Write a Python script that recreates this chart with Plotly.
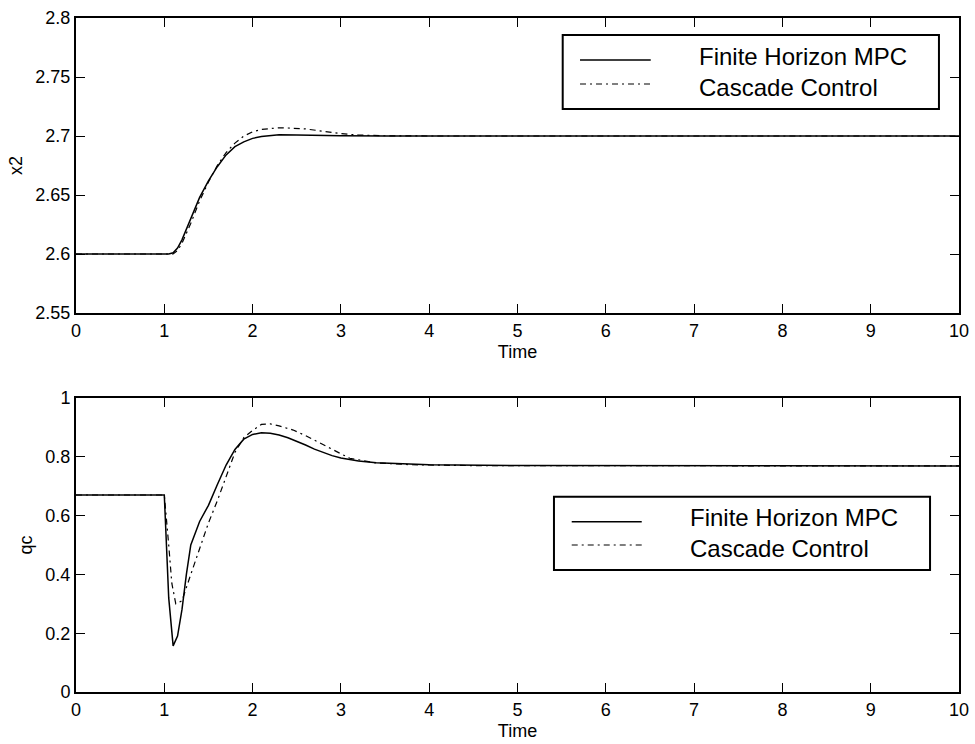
import plotly.graph_objects as go
from plotly.subplots import make_subplots

# ---------------- data ----------------
t_x2_mpc = [0, 1.0, 1.05, 1.1, 1.15, 1.2, 1.3, 1.4, 1.5, 1.6, 1.7, 1.8, 1.9, 2.0,
            2.1, 2.2, 2.3, 2.5, 2.7, 3.0, 3.5, 4.0, 10.0]
x2_mpc = [2.6, 2.6, 2.6, 2.601, 2.605, 2.612, 2.630, 2.648, 2.662, 2.674, 2.684,
          2.691, 2.695, 2.698, 2.6995, 2.7005, 2.701, 2.7008, 2.7004, 2.7002,
          2.7, 2.7, 2.7]

t_x2_cas = [0, 1.0, 1.05, 1.1, 1.15, 1.2, 1.3, 1.4, 1.5, 1.6, 1.7, 1.8, 1.9, 2.0,
            2.1, 2.2, 2.3, 2.4, 2.6, 2.8, 3.0, 3.2, 3.5, 4.0, 10.0]
x2_cas = [2.6, 2.6, 2.6, 2.6, 2.603, 2.609, 2.626, 2.645, 2.661, 2.675, 2.686,
          2.694, 2.700, 2.7035, 2.7055, 2.7065, 2.707, 2.7068, 2.706, 2.704,
          2.702, 2.7008, 2.7002, 2.7, 2.7]

t_qc_mpc = [0, 1.0, 1.05, 1.1, 1.15, 1.2, 1.25, 1.3, 1.4, 1.5, 1.6, 1.7, 1.8, 1.9,
            2.0, 2.1, 2.2, 2.3, 2.4, 2.5, 2.6, 2.7, 2.8, 2.9, 3.0, 3.2, 3.4, 3.7,
            4.0, 5.0, 10.0]
qc_mpc = [0.67, 0.67, 0.32, 0.157, 0.19, 0.28, 0.40, 0.50, 0.58, 0.635, 0.705,
          0.772, 0.825, 0.86, 0.876, 0.882, 0.880, 0.874, 0.865, 0.853, 0.840,
          0.826, 0.814, 0.804, 0.796, 0.786, 0.780, 0.776, 0.773, 0.770, 0.769]

t_qc_cas = [0, 1.0, 1.05, 1.085, 1.13, 1.2, 1.3, 1.4, 1.5, 1.6, 1.7, 1.8, 1.9, 2.0,
            2.1, 2.2, 2.3, 2.46, 2.6, 2.84, 3.1, 3.4, 3.8, 4.5, 10.0]
qc_cas = [0.67, 0.67, 0.50, 0.37, 0.30, 0.31, 0.40, 0.49, 0.575, 0.65, 0.735,
          0.815, 0.865, 0.89, 0.91, 0.912, 0.905, 0.891, 0.872, 0.834, 0.795,
          0.779, 0.773, 0.770, 0.769]

x_ticks = [0, 1, 2, 3, 4, 5, 6, 7, 8, 9, 10]
x2_ticks = [2.55, 2.6, 2.65, 2.7, 2.75, 2.8]
x2_ticktext = ["2.55", "2.6", "2.65", "2.7", "2.75", "2.8"]
qc_ticks = [0, 0.2, 0.4, 0.6, 0.8, 1.0]
qc_ticktext = ["0", "0.2", "0.4", "0.6", "0.8", "1"]

series_names = ["Finite Horizon MPC", "Cascade Control"]

# ---------------- figure ----------------
FONT = "Liberation Sans, Arial, Helvetica, sans-serif"
DASHDOT = "6px,4px,2px,4px"

fig = make_subplots(rows=2, cols=1)

fig.add_trace(go.Scatter(x=t_x2_mpc, y=x2_mpc, mode="lines", name=series_names[0],
                         line=dict(color="black", width=1.5), showlegend=False), row=1, col=1)
fig.add_trace(go.Scatter(x=t_x2_cas, y=x2_cas, mode="lines", name=series_names[1],
                         line=dict(color="black", width=1.2, dash=DASHDOT), showlegend=False), row=1, col=1)
fig.add_trace(go.Scatter(x=t_qc_mpc, y=qc_mpc, mode="lines", name=series_names[0],
                         line=dict(color="black", width=1.5), showlegend=False), row=2, col=1)
fig.add_trace(go.Scatter(x=t_qc_cas, y=qc_cas, mode="lines", name=series_names[1],
                         line=dict(color="black", width=1.2, dash=DASHDOT), showlegend=False), row=2, col=1)

axis_common = dict(showgrid=False, zeroline=False, showline=True, linecolor="black",
                   linewidth=2, mirror="ticks", ticks="inside", ticklen=9, tickwidth=1,
                   tickcolor="black", automargin=False,
                   tickfont=dict(family=FONT, size=18, color="black"))

fig.update_xaxes(range=[0, 10], tickvals=x_ticks, **axis_common,
                 title=dict(text="Time", font=dict(family=FONT, size=18, color="black"), standoff=6))
fig.update_yaxes(**axis_common)

fig.update_layout(
    xaxis=dict(domain=[0, 1]),
    xaxis2=dict(domain=[0, 1]),
    yaxis=dict(domain=[0.5623, 1.0], range=[2.55, 2.8], tickvals=x2_ticks, ticktext=x2_ticktext,
               title=dict(text="x2", font=dict(family=FONT, size=18, color="black"), standoff=8)),
    yaxis2=dict(domain=[0.0, 0.4362], range=[0, 1], tickvals=qc_ticks, ticktext=qc_ticktext,
                title=dict(text="qc", font=dict(family=FONT, size=18, color="black"), standoff=8)),
    width=975, height=744,
    margin=dict(l=76, r=16, t=18, b=52, autoexpand=False),
    paper_bgcolor="white", plot_bgcolor="white",
    font=dict(family=FONT, color="black"),
)

# ---------------- legends (drawn as boxes in paper coordinates) ----------------
legends = [
    dict(box=(0.5512, 0.865, 0.9773, 0.9748), lx=(0.5708, 0.6509), ly=(0.9377, 0.9021),
         tx=0.7029),
    dict(box=(0.5413, 0.1810, 0.9672, 0.2898), lx=(0.5614, 0.6407), ly=(0.2527, 0.2181),
         tx=0.6934),
]
for lg in legends:
    x0, y0, x1, y1 = lg["box"]
    fig.add_shape(type="rect", xref="paper", yref="paper", x0=x0, y0=y0, x1=x1, y1=y1,
                  line=dict(color="black", width=2), fillcolor="white", layer="above")
    fig.add_shape(type="line", xref="paper", yref="paper", x0=lg["lx"][0], x1=lg["lx"][1],
                  y0=lg["ly"][0], y1=lg["ly"][0], line=dict(color="black", width=1.5), layer="above")
    fig.add_shape(type="line", xref="paper", yref="paper", x0=lg["lx"][0], x1=lg["lx"][1],
                  y0=lg["ly"][1], y1=lg["ly"][1], line=dict(color="black", width=1.2, dash=DASHDOT),
                  layer="above")
    fig.add_annotation(xref="paper", yref="paper", x=lg["tx"],
                       y=(lg["ly"][0] + lg["ly"][1]) / 2, text="<br>".join(series_names),
                       showarrow=False, xanchor="left", yanchor="middle", align="left",
                       font=dict(family=FONT, size=24, color="black"))

fig.write_html("out.html")
